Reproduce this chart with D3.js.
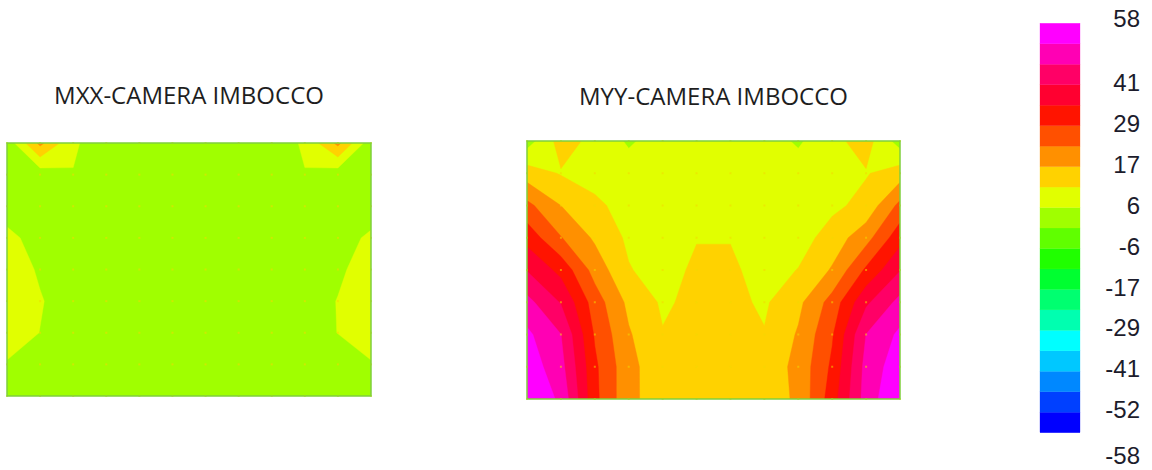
<!DOCTYPE html>
<html>
<head>
<meta charset="utf-8">
<script src="https://cdn.jsdelivr.net/npm/d3@7"></script>
<style>
  html, body { margin: 0; padding: 0; background: #ffffff; }
  svg { display: block; }
</style>
</head>
<body>
<svg id="chart" width="1152" height="470"></svg>
<script>
// Plate bending moments at the mesh nodes: 12 columns x 9 rows, top row first.
const mxxRows = [
  [2.0, 19.0, 6.5, 3.0, 3.0, 3.0, 3.0, 3.0, 3.0, 6.5, 19.0, 2.0],
  [2.0, 2.3, 5.6, 3.0, 3.0, 3.0, 3.0, 3.0, 3.0, 5.6, 2.3, 2.0],
  [1.7, 2.0, 2.5, 2.8, 3.0, 3.0, 3.0, 3.0, 2.8, 2.5, 2.0, 1.5],
  [8.0, 2.5, 2.5, 2.8, 3.0, 3.0, 3.0, 3.0, 2.8, 2.5, 2.5, 7.2],
  [9.0, 5.1, 3.0, 2.8, 3.0, 3.0, 3.0, 3.0, 2.8, 3.0, 4.8, 8.5],
  [10.0, 6.2, 3.0, 2.8, 3.0, 3.0, 3.0, 3.0, 2.8, 3.0, 6.0, 10.0],
  [9.0, 5.7, 3.0, 2.8, 3.0, 3.0, 3.0, 3.0, 2.8, 3.0, 5.9, 9.0],
  [5.3, 3.0, 2.5, 2.8, 3.0, 3.0, 3.0, 3.0, 2.8, 2.5, 3.0, 5.3],
  [3.0, 2.5, 2.5, 2.8, 3.0, 3.0, 3.0, 3.0, 2.8, 2.5, 2.5, 3.0]
];

const myyRows = [
  [3.0, 14.0, 10.0, 5.0, 8.5, 9.0, 9.0, 8.5, 5.0, 10.0, 14.0, 3.0],
  [14.5, 11.2, 9.0, 8.5, 9.0, 9.5, 9.5, 9.0, 8.5, 9.0, 11.2, 14.5],
  [24.8, 17.4, 13.0, 9.0, 9.0, 10.0, 10.0, 9.0, 9.0, 10.3, 13.4, 24.8],
  [32.7, 23.5, 16.5, 10.5, 9.0, 11.3, 11.3, 9.0, 9.0, 14.2, 21.0, 32.7],
  [40.3, 33.0, 21.0, 12.0, 9.0, 12.8, 12.8, 9.0, 11.8, 18.0, 30.0, 40.3],
  [48.2, 40.2, 26.2, 16.0, 10.8, 13.0, 13.0, 10.8, 16.0, 25.5, 39.5, 48.2],
  [53.4, 46.5, 28.4, 18.0, 11.9, 13.2, 13.2, 11.9, 18.0, 28.4, 46.5, 53.4],
  [55.7, 48.4, 30.1, 19.2, 13.5, 13.5, 13.5, 13.5, 19.2, 30.1, 48.4, 55.7],
  [58.0, 51.0, 30.5, 19.0, 14.0, 13.5, 13.5, 14.0, 18.5, 32.0, 49.0, 58.0]
];

const panelTitles = ["MXX-CAMERA IMBOCCO", "MYY-CAMERA IMBOCCO"];

// Colour scale limits and its printed labels
const legendMin = -58;
const legendMax = 58;
const legendSteps = 20;
const legendTickValues = [58, 40.6, 29, 17.4, 5.8, -5.8, -17.4, -29, -40.6, -52.2, -58];
const legendTickLabels = ["58", "41", "29", "17", "6", "-6", "-17", "-29", "-41", "-52", "-58"];

// Band colours, lowest band first
const palette = [
  "#0000ff", "#0040ff", "#0088ff", "#00c8ff", "#00ffff",
  "#00ffb0", "#00ff70", "#00ff30", "#20ff00", "#60ff00",
  "#a0ff00", "#e1ff00", "#ffd200", "#ff9000", "#ff5000",
  "#ff1400", "#ff0030", "#ff0066", "#ff00b4", "#ff00ff"
];

const svg = d3.select("#chart");
const step = (legendMax - legendMin) / legendSteps;
const thresholds = d3.range(legendSteps).map(k => legendMin + k * step);
const bandColor = d3.scaleThreshold().domain(thresholds.slice(1)).range(palette);

const panels = [
  { rows: mxxRows, title: panelTitles[0], x0: 7, x1: 371, y0: 143, y1: 396, titleY: 104, id: "clip-mxx" },
  { rows: myyRows, title: panelTitles[1], x0: 527, x1: 900, y0: 141, y1: 399, titleY: 105, id: "clip-myy" }
];

const defs = svg.append("defs");

panels.forEach(p => {
  const m = p.rows.length, n = p.rows[0].length;

  // Grid handed to the contour generator: the outer ring of nodes is repeated
  // once so the filled bands run straight into the plate edges.
  const grid = [];
  for (let j = -1; j <= m; j++) {
    const row = p.rows[Math.max(0, Math.min(m - 1, j))];
    for (let i = -1; i <= n; i++) grid.push(row[Math.max(0, Math.min(n - 1, i))]);
  }

  // Node i sits at contour coordinate i + 1.5
  const gx = d3.scaleLinear().domain([1.5, n + 0.5]).range([p.x0, p.x1]);
  const gy = d3.scaleLinear().domain([1.5, m + 0.5]).range([p.y0, p.y1]);
  const nodeX = d3.scaleLinear().domain([0, n - 1]).range([p.x0, p.x1]);
  const nodeY = d3.scaleLinear().domain([0, m - 1]).range([p.y0, p.y1]);

  const bands = d3.contours().size([n + 2, m + 2]).thresholds(thresholds)(grid);
  const path = d3.geoPath(d3.geoTransform({
    point(x, y) { this.stream.point(gx(x), gy(y)); }
  }));

  defs.append("clipPath").attr("id", p.id).append("rect")
    .attr("x", p.x0).attr("y", p.y0)
    .attr("width", p.x1 - p.x0).attr("height", p.y1 - p.y0);

  const g = svg.append("g");
  g.append("g").attr("clip-path", `url(#${p.id})`)
    .selectAll("path").data(bands).join("path")
    .attr("d", path)
    .attr("fill", d => bandColor(d.value))
    .attr("stroke", d => bandColor(d.value))
    .attr("stroke-width", 0.4);

  // mesh joints
  const nodes = [];
  for (let j = 0; j < m; j++) for (let i = 0; i < n; i++) nodes.push([i, j]);
  g.append("g").selectAll("rect").data(nodes).join("rect")
    .attr("x", d => nodeX(d[0]) - 1).attr("y", d => nodeY(d[1]) - 1)
    .attr("width", 2).attr("height", 2)
    .attr("fill", "#f2d800").attr("opacity", 0.55);

  // plate outline
  g.append("rect")
    .attr("x", p.x0).attr("y", p.y0)
    .attr("width", p.x1 - p.x0).attr("height", p.y1 - p.y0)
    .attr("fill", "none").attr("stroke", "#7fcf3c").attr("stroke-width", 1.5);

  svg.append("text")
    .attr("x", (p.x0 + p.x1) / 2).attr("y", p.titleY)
    .attr("text-anchor", "middle")
    .attr("font-family", "'Open Sans', 'Noto Sans', sans-serif")
    .attr("font-size", 24).attr("fill", "#1e1e1e")
    .text(p.title);
});

// Colour legend
const legX = 1040, legW = 40;
const legY = d3.scaleLinear().domain([legendMax, legendMin]).range([23.3, 432.7]);
const legend = svg.append("g");
legend.selectAll("rect").data(thresholds).join("rect")
  .attr("x", legX)
  .attr("y", t => legY(t + step))
  .attr("width", legW)
  .attr("height", t => legY(t) - legY(t + step))
  .attr("fill", t => bandColor(t))
  .attr("stroke", t => bandColor(t))
  .attr("stroke-width", 0.3);

legend.selectAll("text").data(legendTickValues).join("text")
  .attr("x", 1140)
  .attr("y", (v, i) => {
    let c = legY(v) - 2.5;
    if (i === 0) c = legY(v) - 5.3;
    if (i === legendTickValues.length - 1) c = legY(v) + 22.3;
    return c + 8.6;
  })
  .attr("text-anchor", "end")
  .attr("font-family", "'Liberation Sans', Arial, sans-serif")
  .attr("font-size", 24)
  .attr("fill", "#1c1c2c")
  .text((v, i) => legendTickLabels[i]);
</script>
</body>
</html>
